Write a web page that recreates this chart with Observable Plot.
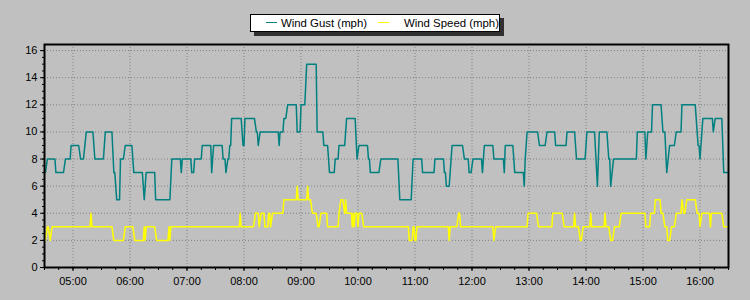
<!DOCTYPE html>
<html><head><meta charset="utf-8">
<script src="https://cdn.jsdelivr.net/npm/d3@7"></script>
<script src="https://cdn.jsdelivr.net/npm/@observablehq/plot@0.6"></script>
<style>
html,body{margin:0;padding:0;background:#c0c0c0;}
#wrap{position:relative;width:750px;height:300px;font-family:"Liberation Sans",Arial,sans-serif;}
#legend{position:absolute;left:250px;top:14px;width:248px;height:16px;background:#fff;border:1px solid #000;box-shadow:4px 4px 0 #303030;font-size:11.4px;color:#000;}
#legend .sw{position:absolute;top:7px;width:11px;height:1px;}
#legend .lb{position:absolute;top:0;line-height:16px;white-space:nowrap;}
</style></head>
<body>
<div id="wrap">
<div id="chart"></div>
<div id="legend">
 <span class="sw" style="left:15px;background:#008080"></span><span class="lb" style="left:30px">Wind Gust (mph)</span>
 <span class="sw" style="left:127px;background:#ffff00"></span><span class="lb" style="left:153px">Wind Speed (mph)</span>
</div>
</div>
<script>
// ---- data ----
const gust = [
["04:31",7],["04:33",8],["04:41",8],["04:42",7],["04:50",7],["04:52",8],["04:57",8],["04:58",9],
["05:06",9],["05:08",8],["05:11",8],["05:14",10],["05:21",10],["05:23",8],["05:32",8],["05:34",10],
["05:41",10],["05:43",7],["05:44",7],["05:46",5],["05:49",5],["05:50",8],["05:53",8],["05:55",9],
["06:02",9],["06:04",7],["06:13",7],["06:15",5],["06:17",7],["06:26",7],["06:27",5],["06:42",5],
["06:44",8],["06:53",8],["06:54",7],["06:55",8],["07:04",8],["07:05",7],["07:07",7],["07:08",8],
["07:15",8],["07:16",9],["07:25",9],["07:26",7],["07:28",9],["07:37",9],["07:38",8],["07:40",8],
["07:41",7],["07:43",8],["07:44",8],["07:45",9],["07:46",9],["07:47",11],["07:57",11],["07:59",9],
["08:00",9],["08:01",11],["08:11",11],["08:13",10],["08:14",10],["08:15",9],["08:17",10],["08:36",10],
["08:37",9],["08:38",10],["08:41",10],["08:42",11],["08:44",11],["08:46",12],["08:55",12],["08:56",10],
["08:59",10],["09:00",12],["09:04",12],["09:06",15],["09:16",15],["09:17",10],["09:23",10],["09:24",9],
["09:28",9],["09:30",7],["09:35",7],["09:36",8],["09:39",8],["09:40",9],["09:46",9],["09:48",11],
["09:57",11],["09:59",8],["10:01",9],["10:10",9],["10:11",8],["10:12",8],["10:13",7],["10:22",7],
["10:24",8],["10:42",8],["10:44",5],["10:56",5],["10:58",8],["11:07",8],["11:08",7],["11:20",7],
["11:21",8],["11:30",8],["11:31",7],["11:32",7],["11:33",6],["11:36",6],["11:39",9],["11:50",9],
["11:52",8],["11:56",8],["11:57",7],["11:59",7],["12:01",8],["12:10",8],["12:11",7],["12:13",9],
["12:22",9],["12:23",8],["12:33",8],["12:34",7],["12:35",9],["12:43",9],["12:45",7],["12:54",7],
["12:55",6],["12:56",8],["12:58",10],["13:09",10],["13:11",9],["13:17",9],["13:19",10],["13:27",10],
["13:28",9],["13:39",9],["13:40",10],["13:48",10],["13:50",8],["13:59",8],["14:01",10],["14:09",10],
["14:12",6],["14:14",10],["14:22",10],["14:24",8],["14:25",8],["14:26",6],["14:29",8],["14:53",8],
["14:54",10],["15:02",10],["15:03",8],["15:05",10],["15:09",10],["15:10",12],["15:19",12],["15:21",10],
["15:23",10],["15:25",7],["15:28",9],["15:33",9],["15:35",10],["15:40",10],["15:41",12],["15:55",12],
["15:58",9],["15:59",9],["16:00",8],["16:03",11],["16:13",11],["16:14",10],["16:16",11],["16:23",11],
["16:25",7],["16:30",7]
];
const speed = [
["04:31",2],["04:33",3],["04:34",3],["04:36",2],["04:38",3],["05:18",3],["05:19",4],["05:20",3],
["05:41",3],["05:43",2],["05:53",2],["05:55",3],["06:03",3],["06:05",2],["06:14",2],["06:15",3],
["06:16",2],["06:17",3],["06:26",3],["06:28",2],["06:40",2],["06:41",3],["06:42",2],["06:43",3],
["07:55",3],["07:56",4],["07:57",3],["08:10",3],["08:12",4],["08:15",4],["08:16",3],["08:18",4],
["08:21",4],["08:22",3],["08:25",3],["08:26",4],["08:27",4],["08:28",3],["08:30",4],["08:41",4],
["08:42",5],["08:55",5],["08:56",6],["08:57",5],["09:06",5],["09:07",6],["09:08",5],["09:10",5],
["09:12",4],["09:16",4],["09:18",3],["09:19",3],["09:21",4],["09:27",4],["09:28",3],["09:39",3],
["09:40",4],["09:42",5],["09:44",5],["09:46",4],["09:47",5],["09:48",4],["09:53",4],["09:54",3],
["09:55",4],["09:56",3],["09:57",4],["09:59",4],["10:00",3],["10:01",4],["10:04",4],["10:06",3],
["10:53",3],["10:54",2],["10:57",2],["10:58",3],["10:59",3],["11:00",2],["11:01",2],["11:02",3],
["11:35",3],["11:36",2],["11:37",3],["11:44",3],["11:46",4],["11:47",4],["11:48",3],["12:22",3],
["12:23",2],["12:25",3],["12:58",3],["12:59",4],["13:08",4],["13:10",3],["13:24",3],["13:25",4],
["13:35",4],["13:37",3],["13:47",3],["13:48",4],["13:49",3],["13:52",3],["13:54",2],["13:55",2],
["13:57",3],["14:04",3],["14:05",4],["14:06",3],["14:19",3],["14:20",4],["14:21",3],["14:24",3],
["14:26",2],["14:28",2],["14:30",3],["14:35",3],["14:37",4],["15:02",4],["15:03",3],["15:07",3],
["15:08",4],["15:12",4],["15:13",5],["15:18",5],["15:19",4],["15:21",4],["15:23",3],["15:25",3],
["15:26",2],["15:28",2],["15:30",3],["15:33",3],["15:35",4],["15:40",4],["15:41",5],["15:43",4],
["15:44",4],["15:46",5],["15:55",5],["15:57",4],["15:59",4],["16:00",3],["16:02",4],["16:10",4],
["16:11",3],["16:12",4],["16:23",4],["16:25",3],["16:30",3]
];
const hourLabels = ["05:00","06:00","07:00","08:00","09:00","10:00","11:00","12:00","13:00","14:00","15:00","16:00"];
const xDomain = ["04:30","16:30"];
const yTicks = [0,2,4,6,8,10,12,14,16];
const yMax = 16.45;

// ---- build ----
const t = s => { const [h,m] = s.split(":").map(Number); return new Date(Date.UTC(2000,0,1,h,m)); };
const toRows = arr => arr.map(([s,v]) => ({time: t(s), value: v}));
const x0 = t(xDomain[0]), x1 = t(xDomain[1]);
const hourTicks = hourLabels.map(t);
const minorX = d3.utcMinute.every(15).range(x0, new Date(+x1 + 1));
const minorY = d3.range(0, 16.01, 0.5);

const chart = Plot.plot({
  width: 750, height: 300,
  marginLeft: 44, marginRight: 22, marginTop: 44, marginBottom: 33,
  style: {background: "#c0c0c0", fontFamily: "'Liberation Sans', Arial, sans-serif", fontSize: "11px", color: "#000", overflow: "visible"},
  x: {type: "utc", domain: [x0, x1]},
  y: {domain: [0, yMax]},
  marks: [
    Plot.gridX(hourTicks, {stroke: "#808080", strokeOpacity: 1, strokeDasharray: "1,2"}),
    Plot.gridY(yTicks.slice(1), {stroke: "#808080", strokeOpacity: 1, strokeDasharray: "1,2"}),
    Plot.line(toRows(speed), {x: "time", y: "value", stroke: "#ffff00", strokeWidth: 1.5}),
    Plot.line(toRows(gust), {x: "time", y: "value", stroke: "#008080", strokeWidth: 1.5}),
    Plot.axisX(minorX, {tickSize: 3, tickFormat: () => "", label: null}),
    Plot.axisX(hourTicks, {tickSize: 4, tickPadding: 6, tickFormat: d3.utcFormat("%H:%M"), label: null}),
    Plot.axisY(minorY, {tickSize: 2, tickFormat: () => "", label: null}),
    Plot.axisY(yTicks, {tickSize: 4, tickPadding: 3, label: null}),
    Plot.frame({stroke: "#000", strokeWidth: 2})
  ]
});
document.getElementById("chart").appendChild(chart);
</script>
</body></html>
